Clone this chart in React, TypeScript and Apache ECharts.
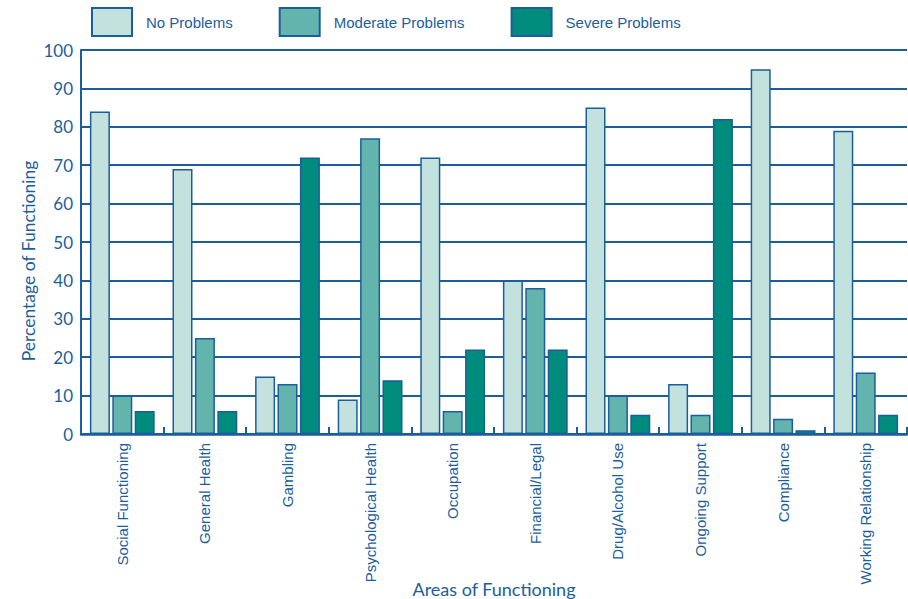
import React, { useEffect, useRef } from "react";
import * as echarts from "echarts";

const categories = [
  "Social Functioning",
  "General Health",
  "Gambling",
  "Psychological Health",
  "Occupation",
  "Financial/Legal",
  "Drug/Alcohol Use",
  "Ongoing Support",
  "Compliance",
  "Working Relationship",
];

const noProblems = [84, 69, 15, 9, 72, 40, 85, 13, 95, 79];
const moderateProblems = [10, 25, 13, 77, 6, 38, 10, 5, 4, 16];
const severeProblems = [6, 6, 72, 14, 22, 22, 5, 82, 1, 5];

const seriesNames = ["No Problems", "Moderate Problems", "Severe Problems"];
const seriesColors = ["#c3e1dd", "#64b4ae", "#008c7c"];

const INK = "#1b5e9c";
const SANS = "'Liberation Sans', Arial, sans-serif";
const HUMANIST = "Lato, 'Open Sans', sans-serif";

export default function App() {
  const ref = useRef<HTMLDivElement>(null);

  useEffect(() => {
    document.body.style.margin = "0";
    if (!ref.current) return;
    const chart = echarts.init(ref.current, null, { renderer: "svg" });

    const values = [noProblems, moderateProblems, severeProblems];

    chart.setOption({
      animation: false,
      backgroundColor: "#ffffff",
      legend: {
        left: 91,
        top: 7,
        padding: 0,
        itemWidth: 40,
        itemHeight: 28,
        itemGap: 46,
        icon: "rect",
        data: seriesNames,
        textStyle: {
          fontFamily: SANS,
          fontSize: 15,
          color: INK,
          padding: [2, 0, 0, 9],
        },
      },
      grid: {
        left: 81,
        right: 1,
        top: 50,
        bottom: 165,
        containLabel: false,
        outerBoundsMode: "none",
      },
      graphic: [
        {
          type: "text",
          x: 28,
          y: 261,
          rotation: Math.PI / 2,
          style: {
            text: "Percentage of Functioning",
            fontFamily: HUMANIST,
            fontSize: 17.5,
            fill: INK,
            align: "center",
            verticalAlign: "middle",
          },
        },
        {
          type: "text",
          x: 494,
          y: 589,
          style: {
            text: "Areas of Functioning",
            fontFamily: HUMANIST,
            fontSize: 18,
            fill: INK,
            align: "center",
            verticalAlign: "middle",
          },
        },
      ],
      xAxis: {
        type: "category",
        data: categories,
        axisLine: { show: true, lineStyle: { color: INK, width: 2.5 } },
        axisTick: {
          show: true,
          inside: true,
          length: 7,
          lineStyle: { color: INK, width: 2 },
        },
        axisLabel: {
          rotate: 90,
          margin: 9,
          fontFamily: SANS,
          fontSize: 15,
          color: INK,
        },
      },
      yAxis: {
        type: "value",
        min: 0,
        max: 100,
        interval: 10,
        axisLine: { show: true, lineStyle: { color: INK, width: 2 } },
        axisTick: { show: false },
        axisLabel: {
          margin: 8,
          fontFamily: HUMANIST,
          fontSize: 17,
          color: INK,
        },
        splitLine: { show: true, lineStyle: { color: INK, width: 2 } },
      },
      series: seriesNames.map((name, i) => ({
        name,
        type: "bar",
        data: values[i],
        barWidth: 20,
        barGap: "12%",
        itemStyle: {
          color: seriesColors[i],
          borderColor: INK,
          borderWidth: 1.5,
        },
      })),
    });

    return () => chart.dispose();
  }, []);

  return <div ref={ref} style={{ width: 908, height: 599 }} />;
}
